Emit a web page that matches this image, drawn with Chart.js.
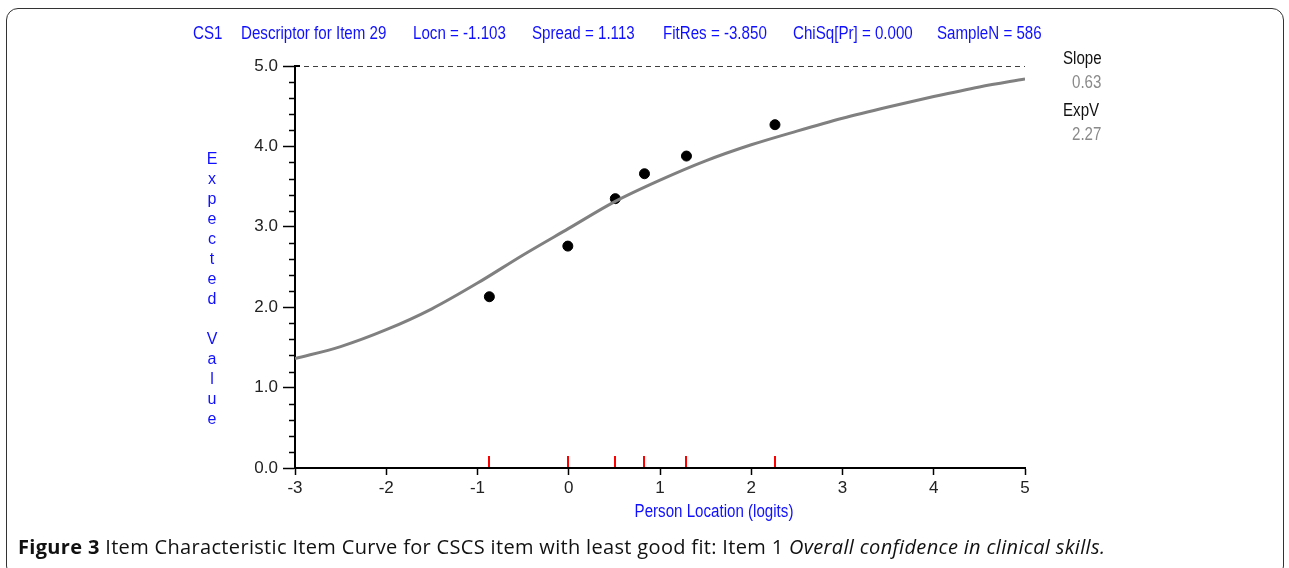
<!DOCTYPE html>
<html>
<head>
<meta charset="utf-8">
<script src="https://cdn.jsdelivr.net/npm/chart.js@4.4.1/dist/chart.umd.min.js"></script>
<style>
html,body{margin:0;padding:0;background:#fff;}
#wrap{position:relative;width:1289px;height:568px;overflow:hidden;}
#frame{position:absolute;left:6px;top:8px;width:1278px;height:570px;border:1.5px solid #333;border-radius:12px;box-sizing:border-box;}
#caption{position:absolute;left:18px;top:533px;font-family:'Open Sans','Noto Sans',sans-serif;font-size:20px;color:#111;white-space:nowrap;letter-spacing:0.33px;}
canvas{position:absolute;left:0;top:0;}
</style>
</head>
<body>
<div id="wrap">
<div id="frame"></div>
<canvas id="c" width="1289" height="568"></canvas>
<div id="caption"><b>Figure 3</b> Item Characteristic Item Curve for CSCS item with least good fit: Item 1 <i>Overall confidence in clinical skills.</i></div>
</div>
<script>
// expected value curve
const curveX=[-3,-2.5,-2,-1.5,-1,-0.5,0,0.5,1,1.5,2,2.5,3,3.5,4,4.5,5];
const curveY=[1.36,1.51,1.72,1.98,2.30,2.65,2.98,3.31,3.58,3.82,4.02,4.19,4.35,4.49,4.62,4.74,4.84];
// observed class interval means
const obsX=[-0.87,-0.01,0.51,0.83,1.29,2.26];
const obsY=[2.13,2.76,3.35,3.66,3.88,4.27];
const maxScore=5;
const xMin=-3, xMax=5;
const yTicks=[0,1,2,3,4,5];
const titleParts=[
  ['CS1',193],['Descriptor for Item 29',241],['Locn = -1.103',413],['Spread = 1.113',532],
  ['FitRes = -3.850',663],['ChiSq[Pr] = 0.000',793],['SampleN = 586',937]
];
const sideInfo=[['Slope','0.63'],['ExpV','2.27']];
const yTitle='Expected Value';
const xTitle='Person Location (logits)';

const SANS="'Liberation Sans','Arimo',sans-serif";

// condensed text, the original uses a narrow face
function narrowText(ctx,text,x,y,align){
  ctx.save();
  ctx.translate(x,y);
  ctx.scale(0.84,1);
  ctx.textAlign=align||'left';
  ctx.fillText(text,0,0);
  ctx.restore();
}

const extrasPlugin={
  id:'extras',
  afterDraw(chart){
    const {ctx,scales:{x,y}}=chart;
    ctx.save();
    const ax=x.getPixelForValue(xMin);
    // minor y ticks
    ctx.strokeStyle='#000';
    ctx.lineWidth=1.5;
    for(let i=0;i<=maxScore*5;i++){
      if(i%5===0) continue;
      const py=Math.round(y.getPixelForValue(i/5))+0.5;
      ctx.beginPath();ctx.moveTo(ax-6,py);ctx.lineTo(ax,py);ctx.stroke();
    }
    // cap at top of y axis
    const top=y.getPixelForValue(maxScore);
    ctx.lineWidth=2;
    ctx.beginPath();ctx.moveTo(ax,top);ctx.lineTo(ax+5,top);ctx.stroke();
    // red class interval marks
    const base=y.getPixelForValue(0);
    ctx.strokeStyle='#ff0000';
    ctx.lineWidth=2;
    obsX.forEach(v=>{
      const px=Math.round(x.getPixelForValue(v));
      ctx.beginPath();ctx.moveTo(px,base-1);ctx.lineTo(px,base-12);ctx.stroke();
    });
    // header
    ctx.font='18px '+SANS;
    ctx.fillStyle='#1010ff';
    ctx.textBaseline='middle';
    titleParts.forEach(([t,px])=>narrowText(ctx,t,px,34));
    // slope / expv
    sideInfo.forEach(([lab,val],i)=>{
      ctx.fillStyle='#111';
      narrowText(ctx,lab,1063,59+i*52);
      ctx.fillStyle='#8a8a8a';
      narrowText(ctx,val,1072,83+i*52);
    });
    // y title, stacked letters
    ctx.font='16px '+SANS;
    ctx.fillStyle='#1010ff';
    ctx.textAlign='center';
    let ly=160;
    [...yTitle].forEach(ch=>{
      if(ch!==' ') ctx.fillText(ch,212,ly);
      ly+=20;
    });
    // x title
    ctx.font='18px '+SANS;
    narrowText(ctx,xTitle,714,512,'center');
    ctx.restore();
  }
};

new Chart(document.getElementById('c'),{
  data:{
    datasets:[
      {type:'line',data:[{x:xMin,y:maxScore},{x:xMax,y:maxScore}],borderColor:'#000',borderWidth:1.5,borderDash:[5,4],pointRadius:0},
      {type:'line',data:curveX.map((v,i)=>({x:v,y:curveY[i]})),borderColor:'#808080',borderWidth:3,pointRadius:0,cubicInterpolationMode:'monotone'},
      {type:'scatter',data:obsX.map((v,i)=>({x:v,y:obsY[i]})),backgroundColor:'#000',borderColor:'#000',pointRadius:5,pointHoverRadius:5}
    ]
  },
  options:{
    responsive:false,
    animation:false,
    events:[],
    layout:{padding:{left:0,top:66,right:264,bottom:0}},
    plugins:{legend:{display:false},tooltip:{enabled:false}},
    scales:{
      x:{type:'linear',min:xMin,max:xMax,
        ticks:{stepSize:1,color:'#222',padding:3,font:{family:SANS,size:17},callback:v=>String(v)},
        grid:{drawOnChartArea:false,tickLength:7,tickColor:'#000',tickWidth:1.5},
        border:{display:true,color:'#000',width:2},
        afterFit(s){s.height=100;}
      },
      y:{type:'linear',min:0,max:maxScore,
        afterBuildTicks(s){s.ticks=yTicks.map(v=>({value:v}));},
        ticks:{color:'#222',padding:5,font:{family:SANS,size:17},callback:v=>Number(v).toFixed(1)},
        grid:{drawOnChartArea:false,tickLength:12,tickColor:'#000',tickWidth:1.5},
        border:{display:true,color:'#000',width:2},
        afterFit(s){s.width=295;}
      }
    }
  },
  plugins:[extrasPlugin]
});
</script>
</body>
</html>
